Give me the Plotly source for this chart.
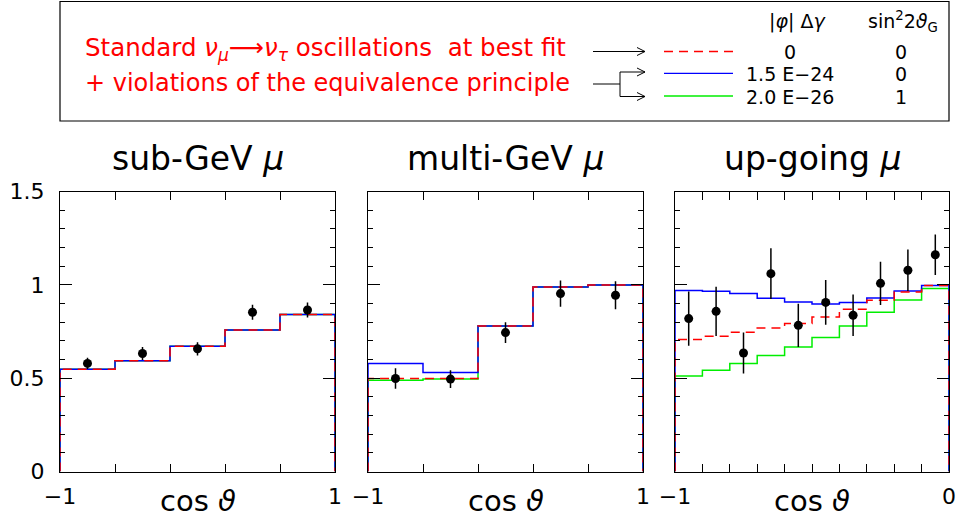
import plotly.graph_objects as go

# ---------------- data ----------------
sub_edges = [-1.0, -0.6, -0.2, 0.2, 0.6, 1.0]
sub_centers = [-0.8, -0.4, 0.0, 0.4, 0.8]
sub_data = [0.579, 0.632, 0.657, 0.853, 0.865]
sub_err = [0.030, 0.035, 0.035, 0.040, 0.040]
sub_std = [0.548, 0.593, 0.671, 0.758, 0.841]
sub_vep_a = [0.548, 0.593, 0.671, 0.758, 0.841]
sub_vep_b = [0.548, 0.593, 0.671, 0.758, 0.841]

multi_edges = [-1.0, -0.6, -0.2, 0.2, 0.6, 1.0]
multi_centers = [-0.8, -0.4, 0.0, 0.4, 0.8]
multi_data = [0.498, 0.495, 0.744, 0.953, 0.944]
multi_err = [0.055, 0.048, 0.055, 0.070, 0.075]
multi_std = [0.498, 0.498, 0.780, 0.988, 0.999]
multi_vep_a = [0.579, 0.530, 0.780, 0.988, 0.999]
multi_vep_b = [0.489, 0.496, 0.780, 0.988, 0.999]

up_edges = [-1.0, -0.9, -0.8, -0.7, -0.6, -0.5, -0.4, -0.3, -0.2, -0.1, 0.0]
up_centers = [-0.95, -0.85, -0.75, -0.65, -0.55, -0.45, -0.35, -0.25, -0.15, -0.05]
up_data = [0.819, 0.858, 0.635, 1.060, 0.783, 0.906, 0.837, 1.008, 1.078, 1.161]
up_err = [0.145, 0.132, 0.110, 0.136, 0.116, 0.120, 0.111, 0.116, 0.111, 0.108]
up_std = [0.707, 0.725, 0.746, 0.769, 0.793, 0.828, 0.869, 0.917, 0.961, 0.996]
up_vep_a = [0.969, 0.965, 0.953, 0.928, 0.908, 0.897, 0.905, 0.929, 0.967, 0.997]
up_vep_b = [0.512, 0.543, 0.579, 0.621, 0.667, 0.718, 0.780, 0.853, 0.919, 0.980]

panel_titles = ["sub-GeV <i>μ</i>", "multi-GeV <i>μ</i>", "up-going <i>μ</i>"]
y_tickvals = [0, 0.5, 1, 1.5]
y_ticktext = ["0", "0.5", "1", "1.5"]

legend_header = ["|<i>φ</i>| Δ<i>γ</i>", "sin<sup>2</sup>2<i>ϑ</i><sub>G</sub>"]
legend_phi = ["0", "1.5 E−24", "2.0 E−26"]
legend_sin = ["0", "0", "1"]

# ---------------- style ----------------
W, H = 960, 521
RED, BLUE, GREEN = "#ff0000", "#0000ff", "#00ee00"
FONT = "DejaVu Sans, Liberation Sans, sans-serif"


def P(x):
    return x / W


def Q(y):
    return 1 - y / H


def step_xy(edges, vals):
    xs = [edges[0]] + list(edges[:-1]) + [edges[-1], edges[-1]]
    ys = [0] + list(vals) + [vals[-1], 0]
    return xs, ys


panels = [
    (sub_edges, sub_centers, sub_data, sub_err, sub_std, sub_vep_a, sub_vep_b),
    (multi_edges, multi_centers, multi_data, multi_err, multi_std, multi_vep_a, multi_vep_b),
    (up_edges, up_centers, up_data, up_err, up_std, up_vep_a, up_vep_b),
]

x_domains = [(60, 335), (368, 643), (675, 949)]
y_dom = [Q(471.5), Q(191.5)]

fig = go.Figure()

for i, (edges, centers, data, err, std, va, vb) in enumerate(panels):
    xa = "x" if i == 0 else f"x{i+1}"
    ya = "y" if i == 0 else f"y{i+1}"
    for vals, color, dash in [(vb, GREEN, "solid"), (va, BLUE, "solid"), (std, RED, "9px,6px")]:
        xs, ys = step_xy(edges, vals)
        fig.add_trace(go.Scatter(x=xs, y=ys, mode="lines", line_shape="hv",
                                 line=dict(color=color, width=1.5, dash=dash),
                                 xaxis=xa, yaxis=ya, showlegend=False, hoverinfo="skip"))
    fig.add_trace(go.Scatter(x=centers, y=data, mode="markers",
                             marker=dict(color="black", size=9),
                             error_y=dict(type="data", array=err, color="black", thickness=1.5, width=0),
                             xaxis=xa, yaxis=ya, showlegend=False))

axis_common = dict(showline=True, linecolor="black", linewidth=1, mirror="ticks",
                   ticks="inside", tickcolor="black", tickwidth=1, showgrid=False,
                   zeroline=False, automargin=False,
                   tickfont=dict(family=FONT, size=22, color="black"))

layout_axes = {}
for i, (edges, *_rest) in enumerate(panels):
    xk = "xaxis" if i == 0 else f"xaxis{i+1}"
    yk = "yaxis" if i == 0 else f"yaxis{i+1}"
    ya = "y" if i == 0 else f"y{i+1}"
    xa = "x" if i == 0 else f"x{i+1}"
    lo, hi = edges[0], edges[-1]
    ttext = [("−1" if k == 0 else (f"{hi:g}" if k == len(edges) - 1 else " ")) for k in range(len(edges))]
    layout_axes[xk] = dict(axis_common, domain=[P(x_domains[i][0]), P(x_domains[i][1])],
                           range=[lo, hi], tickvals=edges, ticktext=ttext, ticklen=8,
                           anchor=ya, ticklabelstandoff=5)
    layout_axes[yk] = dict(axis_common, domain=y_dom, range=[0, 1.5], tickvals=y_tickvals,
                           ticktext=y_ticktext, ticklen=12, anchor=xa,
                           showticklabels=(i == 0), ticklabelstandoff=10,
                           minor=dict(ticks="inside", ticklen=5, dtick=0.1, tick0=0,
                                      tickcolor="black", tickwidth=1, showgrid=False))

fig.update_layout(width=W, height=H, margin=dict(l=0, r=0, t=0, b=0, autoexpand=False),
                  plot_bgcolor="white", paper_bgcolor="white", showlegend=False,
                  **layout_axes)

annotations = []
shapes = []


def text(t, x, y, size, color="black", xanchor="center"):
    annotations.append(dict(text=t, x=P(x), y=Q(y), xref="paper", yref="paper",
                            showarrow=False, xanchor=xanchor, yanchor="middle",
                            font=dict(family=FONT, size=size, color=color)))


# panel titles and axis titles
for i, t in enumerate(panel_titles):
    cx = (x_domains[i][0] + x_domains[i][1]) / 2
    text(t, cx, 158, 33)
    text("cos <i>ϑ</i>", cx, 501, 29)

# legend box
shapes.append(dict(type="rect", xref="paper", yref="paper", x0=P(60), x1=P(949), y0=Q(121), y1=Q(1.5),
                   line=dict(color="black", width=1.2), fillcolor="rgba(0,0,0,0)"))
text("Standard <i>ν</i><sub><i>μ</i></sub>⟶<i>ν</i><sub><i>τ</i></sub> oscillations  at best fit",
     83, 49, 24.5, RED, "left")
text("+ violations of the equivalence principle", 83, 83, 24, RED, "left")


def line(x0, y0, x1, y1, color="black", width=1, dash="solid"):
    shapes.append(dict(type="line", xref="paper", yref="paper", x0=P(x0), y0=Q(y0), x1=P(x1), y1=Q(y1),
                       line=dict(color=color, width=width, dash=dash)))


def chevron(x, y):
    line(x - 8, y - 4, x, y)
    line(x - 8, y + 4, x, y)


# arrows
line(593, 51.5, 645, 51.5)
chevron(645, 51.5)
line(593, 84, 620, 84)
line(620, 72, 620, 96.5)
line(620, 72, 645, 72)
line(620, 96.5, 645, 96.5)
chevron(645, 72)
chevron(645, 96.5)

# legend samples
line(664, 51.5, 733, 51.5, RED, 1.3, "9px,6px")
line(664, 73.3, 733, 73.3, BLUE, 1.3)
line(664, 96, 733, 96, GREEN, 1.3)

text(legend_header[0], 797, 22, 19)
text(legend_header[1], 903, 22, 19)
for k, yy in enumerate([52, 74.5, 97]):
    text(legend_phi[k], 790, yy, 19)
    text(legend_sin[k], 901, yy, 19)

fig.update_layout(annotations=annotations, shapes=shapes)
fig.write_html("out.html", config={"displayModeBar": False},
               post_script="document.body.style.margin='0';document.body.style.overflow='hidden';")
